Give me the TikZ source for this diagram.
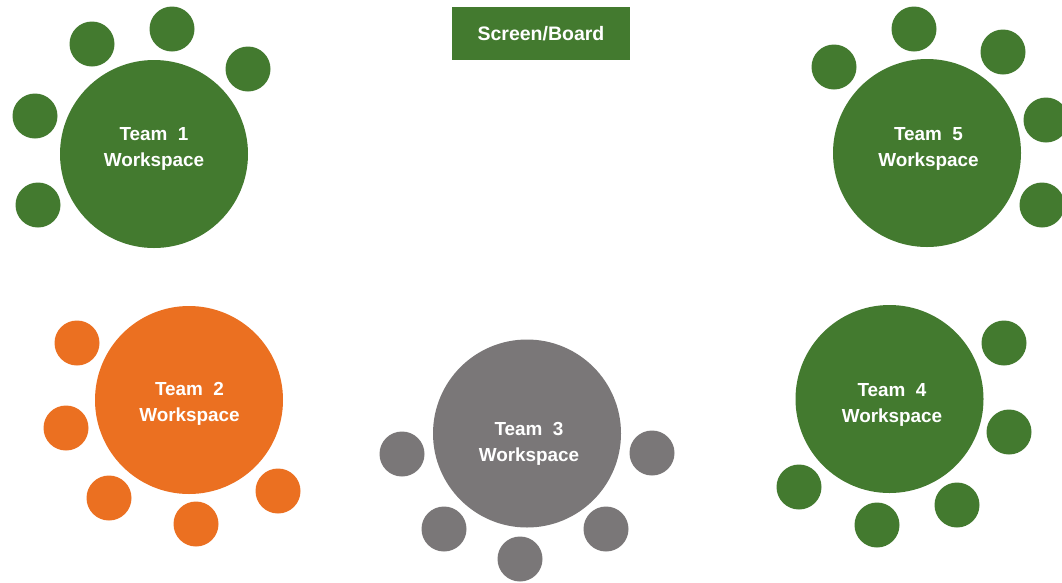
\documentclass[tikz,border=0pt]{standalone}
\usepackage{fontspec}
\setmainfont{Liberation Sans}
\definecolor{tgreen}{HTML}{437A2F}
\definecolor{torange}{HTML}{EB7021}
\definecolor{tgray}{HTML}{7A7778}
\begin{document}
\begin{tikzpicture}[x=1pt,y=-1pt,
  big/.style={circle,inner sep=0pt,minimum size=188pt},
  seat/.style={circle,inner sep=0pt,minimum size=45pt},
  teamtxt/.style={text=white,align=center,inner sep=0pt,font=\fontsize{18.9}{26}\selectfont\bfseries},
  boardbox/.style={fill=tgreen,minimum width=178pt,minimum height=53pt,inner sep=0pt,text=white,font=\fontsize{19.5}{22}\selectfont\bfseries}]
\useasboundingbox (0,0) rectangle (1062,582);
% Screen
\node[boardbox] (board) at (541,33.5) {Screen/Board};
% Team 1
\node[big,fill=tgreen] (team1) at (154,154) {};
\node[teamtxt] (t1) at (154,148.5) {Team\ \ 1\\Workspace};
\foreach \p [count=\i] in {(92,44),(172,29),(248,69),(35,116),(38,205)}
  \node[seat,fill=tgreen] (s1-\i) at \p {};
% Team 5
\node[big,fill=tgreen] (team5) at (927,153) {};
\node[teamtxt] (t5) at (928.5,148.5) {Team\ \ 5\\Workspace};
\foreach \p [count=\i] in {(834,67),(914,29),(1003,52),(1046,120),(1042,205)}
  \node[seat,fill=tgreen] (s5-\i) at \p {};
% Team 2
\node[big,fill=torange] (team2) at (189,400) {};
\node[teamtxt] (t2) at (189.5,403.5) {Team\ \ 2\\Workspace};
\foreach \p [count=\i] in {(77,343),(66,428),(109,498),(196,524),(278,491)}
  \node[seat,fill=torange] (s2-\i) at \p {};
% Team 3
\node[big,fill=tgray] (team3) at (527,433.5) {};
\node[teamtxt] (t3) at (529,443.5) {Team\ \ 3\\Workspace};
\foreach \p [count=\i] in {(402,454),(444,529),(520,559),(606,529),(652,453)}
  \node[seat,fill=tgray] (s3-\i) at \p {};
% Team 4
\node[big,fill=tgreen] (team4) at (889.5,399) {};
\node[teamtxt] (t4) at (892,404.5) {Team\ \ 4\\Workspace};
\foreach \p [count=\i] in {(1004,343),(1009,432),(957,505),(877,525),(799,487)}
  \node[seat,fill=tgreen] (s4-\i) at \p {};
\end{tikzpicture}
\end{document}
